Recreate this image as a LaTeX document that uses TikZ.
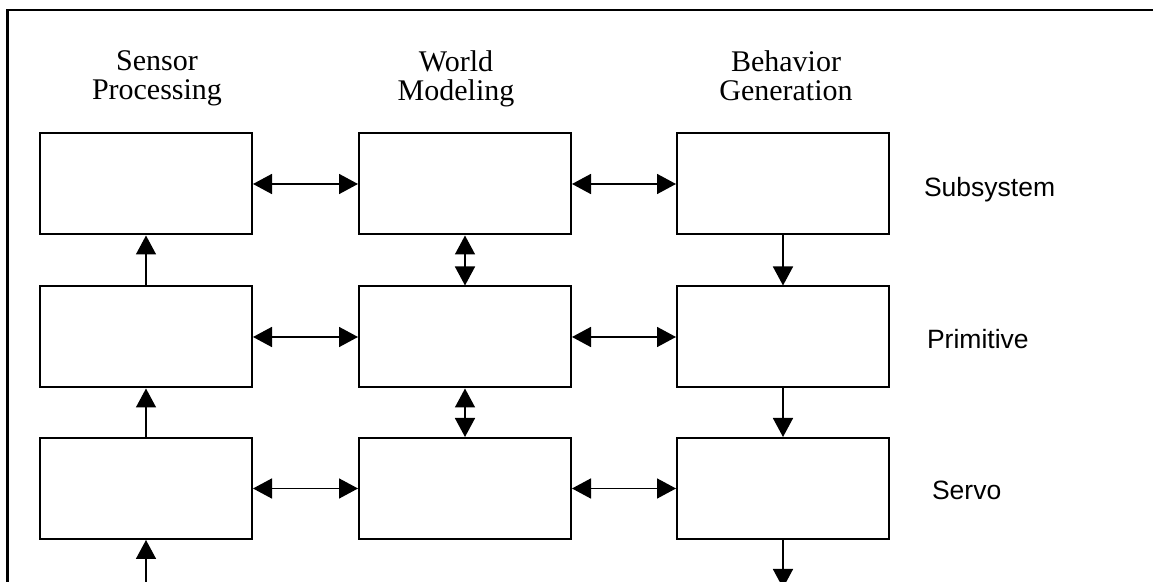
\documentclass[tikz,border=0pt]{standalone}
\usepackage{fontspec}
\setmainfont{Liberation Serif}
\setsansfont{Liberation Sans}
\usetikzlibrary{arrows.meta}

\begin{document}
\begin{tikzpicture}[x=0.5pt,y=-0.5pt,
	blk/.style={draw,line width=1pt,fill=white,minimum width=106pt,minimum height=50.5pt,inner sep=0pt},
	lnk/.style={line width=0.8pt},
	both/.style={lnk,{Triangle[length=9.5pt,width=10pt]}-{Triangle[length=9.5pt,width=10pt]}},
	one/.style={lnk,-{Triangle[length=9.5pt,width=10pt]}},
	head/.style={align=center,anchor=north,inner sep=0pt,font=\fontsize{15}{14.5}\selectfont},
	level/.style={anchor=west,font=\sffamily\fontsize{13.25}{15}\selectfont}]
	\useasboundingbox (0,0) rectangle (1153,582);
	\clip (0,0) rectangle (1153,582);

	\coordinate (s1) at (146,184);
	\coordinate (s2) at (146,337);
	\coordinate (s3) at (146,488.5);
	\coordinate (w1) at (465,184);
	\coordinate (w2) at (465,337);
	\coordinate (w3) at (465,488.5);
	\coordinate (b1) at (783,184);
	\coordinate (b2) at (783,337);
	\coordinate (b3) at (783,488.5);
	\coordinate (in) at (146,600);
	\coordinate (out) at (783,588);

	% frame
	\draw[line width=1.1pt] (7.5,582) -- (7.5,10) -- (1153,10);

	% column headings
	\node (hs) at (157,50) [head] {Sensor\\Processing};
	\node (hw) at (456,50) [head] {World\\Modeling};
	\node (hb) at (786,50) [head] {Behavior\\Generation};

	\node (sp1) at (s1) [blk] {};
	\node (sp2) at (s2) [blk] {};
	\node (sp3) at (s3) [blk] {};
	\node (wm1) at (w1) [blk] {};
	\node (wm2) at (w2) [blk] {};
	\node (wm3) at (w3) [blk] {};
	\node (bg1) at (b1) [blk] {};
	\node (bg2) at (b2) [blk] {};
	\node (bg3) at (b3) [blk] {};

	% level names
	\node (lsub) at (917,190) [level] {Subsystem};
	\node (lpri) at (920,339) [level] {Primitive};
	\node (lser) at (925,490) [level] {Servo};

	\draw[both] (sp1) -- (wm1);
	\draw[both] (wm1) -- (bg1);
	\draw[both] (sp2) -- (wm2);
	\draw[both] (wm2) -- (bg2);
	\draw[both] (sp3) -- (wm3);
	\draw[both] (wm3) -- (bg3);

	\draw[one] (in) -- (sp3);
	\draw[one] (sp3) -- (sp2);
	\draw[one] (sp2) -- (sp1);
	\draw[both] (wm1) -- (wm2);
	\draw[both] (wm2) -- (wm3);
	\draw[one] (bg1) -- (bg2);
	\draw[one] (bg2) -- (bg3);
	\draw[one] (bg3) -- (out);
\end{tikzpicture}
\end{document}
